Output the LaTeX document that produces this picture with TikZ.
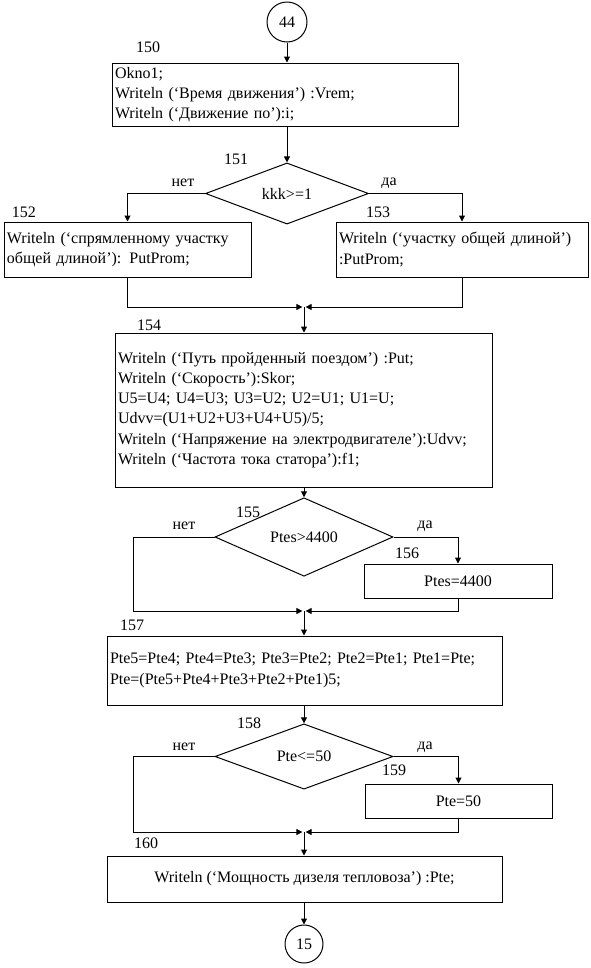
\documentclass[tikz,border=0pt]{standalone}
\usepackage{fontspec}
\setmainfont{Liberation Serif}
\usetikzlibrary{shapes.geometric,arrows.meta}
\begin{document}
\begin{tikzpicture}[x=0.75pt,y=-0.75pt,
  every node/.style={font=\fontsize{12}{15.2}\selectfont},
  ln/.style={line width=0.75pt},
  arr/.style={ln,-{Triangle[length=4.5pt,width=4.5pt]}},
  marr/.style={arr,shorten >=1.2pt},
  boxl/.style={draw,ln,rectangle,inner xsep=2.25pt,inner ysep=0pt,align=left},
  boxc/.style={draw,ln,rectangle,inner sep=0pt,align=center},
  dec/.style={draw,ln,diamond,inner sep=0pt},
  conn/.style={draw,ln,circle,inner sep=0pt},
  lbl/.style={inner sep=0pt}]
\useasboundingbox (0,0) rectangle (590,968);
% connectors (circles)
\node[conn,minimum size=30pt] (c44) at (287,22) {44};
\node[lbl] (t150) at (148,47) {150};
\node[boxl,minimum width=259.5pt,minimum height=47.25pt,text width=255pt] (b150) at (285,94.5)
 {Okno1;\\Writeln (‘Время движения’) :Vrem;\\Writeln (‘Движение по’):i;};
\node[dec,minimum width=122.25pt,minimum height=42.75pt] (d151) at (287,193.5) {kkk>=1};
\node[lbl] (t151) at (236,159) {151};
\node[lbl] (y151n) at (183,183) {нет};
\node[lbl] (y151d) at (389,183) {да};
\node[lbl] (t152) at (24,212) {152};
\node[lbl] (t153) at (378,212) {153};
\node[boxl,minimum width=185.25pt,minimum height=41.25pt,text width=180.75pt] (b152) at (127.5,249.5)
 {Writeln (‘спрямленному участку\\общей длиной’): PutProm;};
\node[boxl,minimum width=189pt,minimum height=41.25pt,text width=184.5pt] (b153) at (462,249.5)
 {Writeln (‘участку общей длиной’)\\:PutProm;};
\coordinate (m1) at (304,307);
\node[lbl] (t154) at (149,325) {154};
\node[boxl,minimum width=282.75pt,minimum height=115.5pt,text width=278.25pt] (b154) at (303.5,410)
 {Writeln (‘Путь пройденный поездом’) :Put;\\
  Writeln (‘Скорость’):Skor;\\
  U5=U4; U4=U3; U3=U2; U2=U1; U1=U;\\
  Udvv=(U1+U2+U3+U4+U5)/5;\\
  Writeln (‘Напряжение на электродвигателе’):Udvv;\\
  Writeln (‘Частота тока статора’):f1;};
\node[dec,minimum width=133.5pt,minimum height=40.5pt] (d155) at (304,537) {Ptes>4400};
\node[lbl] (t155) at (248,512) {155};
\node[lbl] (y155n) at (184,526) {нет};
\node[lbl] (y155d) at (425,526) {да};
\node[lbl] (t156) at (407,553) {156};
\node[boxc,minimum width=141pt,minimum height=25.5pt] (b156) at (458,581) {Ptes=4400};
\coordinate (n155) at (133,537);
\coordinate (m2) at (304,611);
\node[lbl] (t157) at (132,625) {157};
\node[boxl,minimum width=296.25pt,minimum height=51.75pt,text width=291.75pt] (b157) at (304.5,670.5)
 {Pte5=Pte4; Pte4=Pte3; Pte3=Pte2; Pte2=Pte1; Pte1=Pte;\\
  Pte=(Pte5+Pte4+Pte3+Pte2+Pte1)5;};
\node[dec,minimum width=133.5pt,minimum height=41.25pt] (d158) at (304,756.5) {Pte<=50};
\node[lbl] (t158) at (249,723) {158};
\node[lbl] (y158n) at (184,747) {нет};
\node[lbl] (y158d) at (425,747) {да};
\node[lbl] (t159) at (394,770) {159};
\node[boxc,minimum width=140.25pt,minimum height=25.5pt] (b159) at (458.5,801) {Pte=50};
\coordinate (n158) at (133,756.5);
\coordinate (m3) at (304,832);
\node[lbl] (t160) at (146,843) {160};
\node[boxc,minimum width=296.25pt,minimum height=34.5pt] (b160) at (304.5,879)
 {Writeln (‘Мощность дизеля тепловоза’) :Pte;};
\node[conn,minimum size=28.5pt] (c15) at (304,944) {15};
% edges
\draw[arr] (c44) -- (b150.north -| c44);
\draw[arr] (b150.south -| d151) -- (d151.north);
\draw[arr] (d151.west) -| (b152.north);
\draw[arr] (d151.east) -| (b153.north);
\draw[marr] (b152.south) |- (m1);
\draw[marr] (b153.south) |- (m1);
\draw[arr] (m1) -- (b154.north -| m1);
\draw[arr] (b154.south -| d155) -- (d155.north);
\draw[ln] (d155.west) -- (n155);
\draw[marr] (n155) |- (m2);
\draw[arr] (d155.east) -| (b156.north);
\draw[marr] (b156.south) |- (m2);
\draw[arr] (m2) -- (b157.north -| m2);
\draw[arr] (b157.south -| d158) -- (d158.north);
\draw[ln] (d158.west) -- (n158);
\draw[marr] (n158) |- (m3);
\draw[arr] (d158.east) -| (b159.north);
\draw[marr] (b159.south) |- (m3);
\draw[arr] (m3) -- (b160.north -| m3);
\draw[arr] (b160.south -| c15) -- (c15.north);
\end{tikzpicture}
\end{document}
